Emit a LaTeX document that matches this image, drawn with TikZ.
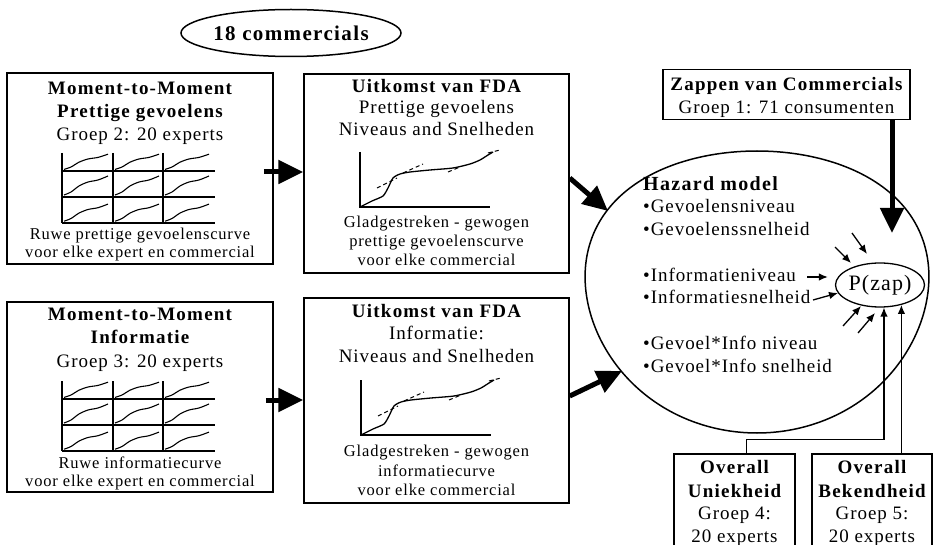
\documentclass[tikz,border=0pt]{standalone}
\usepackage{fontspec}
\setmainfont{Liberation Serif}[LetterSpace=5, BoldFeatures={LetterSpace=6.5}]
\usetikzlibrary{arrows.meta,shapes.geometric}
\begin{document}
\begin{tikzpicture}[x=1pt,y=-1pt,
  box/.style={draw, rectangle, line width=1.5pt, inner sep=0pt},
  txt/.style={anchor=base, inner sep=0pt, font=\fontsize{19pt}{23pt}\selectfont},
  bld/.style={anchor=base, inner sep=0pt, font=\fontsize{19pt}{23pt}\selectfont\bfseries},
  capt/.style={anchor=base, inner sep=0pt, font=\fontsize{16.5pt}{20pt}\selectfont},
  item/.style={anchor=base west, inner sep=0pt, font=\fontsize{19pt}{23pt}\selectfont},
  bigarrow/.style={line width=5pt, -{Triangle[length=25pt,width=23pt]}},
  thinarrow/.style={line width=1.3pt, -{Latex[length=9pt,width=7.5pt]}},
  grid/.style={line width=1.3pt},
  curve/.style={line width=1.1pt},
]
\useasboundingbox (0,0) rectangle (934,545);
\clip (0,0) rectangle (934,545);

% ---- top ellipse
\node[draw, ellipse, line width=1.5pt, minimum width=220pt, minimum height=47pt, inner sep=0pt,
      font=\fontsize{21pt}{25pt}\selectfont\bfseries] (tc) at (291,33) {18 commercials};

% ---- boxes
\node[box, minimum width=266pt, minimum height=191pt] (b1) at (140,168.5) {};
\node[box, minimum width=265pt, minimum height=199pt] (b2) at (436.5,173.5) {};
\node[box, minimum width=266pt, minimum height=190pt] (b3) at (140,397) {};
\node[box, minimum width=265pt, minimum height=205pt] (b4) at (436.5,400.5) {};
\node[box, minimum width=247pt, minimum height=50pt] (zp) at (786.5,94.5) {};
\node[box, minimum width=121pt, minimum height=110pt] (u) at (734.5,509) {};
\node[box, minimum width=120pt, minimum height=110pt] (bk) at (872,509) {};

% ---- hazard model outline (egg-shaped oval, wider at the top)
\draw[line width=1.5pt] plot[domain=0:360, samples=145, smooth]
  ({757+171*cos(\x)*(1-0.1*sin(\x)+0.05*sin(\x)*sin(\x))}, {292+141*sin(\x)}) -- cycle;
\coordinate (hzA) at (608,211);
\coordinate (hzB) at (622,371);

\node[draw, ellipse, line width=1.3pt, minimum width=74pt, minimum height=44pt, inner sep=0pt,
      font=\fontsize{22pt}{26pt}\selectfont] (pz) at (880,285) {P(zap)};

% ---- box 1 texts
\node[bld] (t1a) at (140,95) {Moment-to-Moment};
\node[bld] (t1b) at (140,118) {Prettige gevoelens};
\node[txt] (t1c) at (140,141) {Groep 2: 20 experts};
\node[capt] (t1d) at (140,240) {Ruwe prettige gevoelenscurve};
\node[capt] (t1e) at (140,258) {voor elke expert en commercial};

% ---- box 2 texts
\node[bld] (t2a) at (436.5,93) {Uitkomst van FDA};
\node[txt] (t2b) at (436.5,114) {Prettige gevoelens};
\node[txt] (t2c) at (436.5,136) {Niveaus and Snelheden};
\node[capt] (t2d) at (436.5,228) {Gladgestreken - gewogen};
\node[capt] (t2e) at (436.5,247) {prettige gevoelenscurve};
\node[capt] (t2f) at (436.5,266) {voor elke commercial};

% ---- box 3 texts
\node[bld] (t3a) at (140,320) {Moment-to-Moment};
\node[bld] (t3b) at (140,343) {Informatie};
\node[txt] (t3c) at (140,367) {Groep 3: 20 experts};
\node[capt] (t3d) at (140,468) {Ruwe informatiecurve};
\node[capt] (t3e) at (140,486) {voor elke expert en commercial};

% ---- box 4 texts
\node[bld] (t4a) at (436.5,317) {Uitkomst van FDA};
\node[txt] (t4b) at (436.5,339) {Informatie:};
\node[txt] (t4c) at (436.5,362) {Niveaus and Snelheden};
\node[capt] (t4d) at (436.5,456) {Gladgestreken - gewogen};
\node[capt] (t4e) at (436.5,476) {informatiecurve};
\node[capt] (t4f) at (436.5,495) {voor elke commercial};

% ---- zappen texts
\node[bld] (z1) at (786.5,91) {Zappen van Commercials};
\node[txt] (z2) at (786.5,114) {Groep 1: 71 consumenten};

% ---- hazard texts
\node[anchor=base west, inner sep=0pt, font=\fontsize{20pt}{24pt}\selectfont\bfseries\addfontfeatures{LetterSpace=17}] (hm) at (643,191) {Hazard model};
\node[item] (l1) at (643,213) {•Gevoelensniveau};
\node[item] (l2) at (643,236) {•Gevoelenssnelheid};
\node[item] (l3) at (643,282) {•Informatieniveau};
\node[item] (l4) at (643,303) {•Informatiesnelheid};
\node[item] (l5) at (643,349) {•Gevoel*Info niveau};
\node[item] (l6) at (643,372) {•Gevoel*Info snelheid};

% ---- overall texts
\node[bld] (u1) at (734.5,473) {Overall};
\node[bld] (u2) at (734.5,497) {Uniekheid};
\node[txt] (u3) at (734.5,519) {Groep 4:};
\node[txt] (u4) at (734.5,542) {20 experts};
\node[bld] (k1) at (872,473) {Overall};
\node[bld] (k2) at (872,497) {Bekendheid};
\node[txt] (k3) at (872,519) {Groep 5:};
\node[txt] (k4) at (872,542) {20 experts};

% ---- mini grids
\foreach \dy in {0,228} {
  \begin{scope}[shift={(0,\dy)}]
    \foreach \x in {62,113,163} \draw[grid] (\x,153) -- (\x,223);
    \foreach \y in {171,197,223} \draw[grid] (62,\y) -- (215,\y);
    \foreach \x in {62,113,163} {
      \foreach \y/\s in {171/0.8,197/1,223/0.9} {
        \draw[curve] plot[smooth] coordinates {({\x+2},{\y-2*\s}) ({\x+9},{\y-5*\s}) ({\x+17},{\y-11*\s}) ({\x+26},{\y-15*\s}) ({\x+36},{\y-17*\s}) ({\x+46},{\y-21*\s})};
      }
    }
  \end{scope}
}

% ---- FDA charts
\foreach \dx/\dy in {0/0,1/228} {
  \begin{scope}[shift={(\dx,\dy)}]
    \draw[grid] (360,152) -- (360,207) -- (490,207);
    \draw[line width=1.3pt] plot[smooth, tension=0.4] coordinates {(360,207) (372,201) (383,196) (388,188) (393,178) (400,174) (410,172) (430,170) (453,168) (470,164) (480,160) (488,155) (493,152)};
    \draw[line width=1pt, dash pattern=on 4pt off 3pt] (377,188) -- (397,178);
    \draw[line width=1pt, dash pattern=on 4pt off 3pt] (403,173) -- (423,164);
    \draw[line width=1pt, dash pattern=on 4pt off 3pt] (448,172) -- (460,167);
    \draw[line width=1pt, dash pattern=on 4pt off 3pt] (488,153) -- (500,150);
  \end{scope}
}

% ---- big arrows
\draw[bigarrow] ([xshift=-10pt,yshift=-3.5pt]b1.east) coordinate (s1) -- (s1 -| b2.west);
\draw[bigarrow] ([xshift=-8pt,yshift=-3pt]b3.east) coordinate (s3) -- (s3 -| b4.west);
\draw[bigarrow] ([yshift=-4.5pt]b2.east) -- (hzA);
\draw[bigarrow] ([yshift=4.5pt]b4.east) -- (hzB);
\coordinate (zt) at (892,233);
\draw[bigarrow] (zt |- zp.south) -- (zt);

% ---- small arrows into P(zap)
\draw[thinarrow, shorten >=7pt] (807,277) coordinate (i1) -- (i1 -| pz.west);
\coordinate (i2s) at (813,300); \coordinate (i2e) at (838,293);
\draw[thinarrow] (i2s) -- (i2e);
\coordinate (a1s) at (835,247); \coordinate (a1e) at (851,263);
\coordinate (a2s) at (852,233); \coordinate (a2e) at (867,254);
\coordinate (a3s) at (843,326); \coordinate (a3e) at (861,306);
\coordinate (a4s) at (858,333); \coordinate (a4e) at (875,313);
\draw[thinarrow] (a1s) -- (a1e);
\draw[thinarrow] (a2s) -- (a2e);
\draw[thinarrow] (a3s) -- (a3e);
\draw[thinarrow] (a4s) -- (a4e);

% ---- overall connectors
\draw[thinarrow] ([xshift=12pt]u.north) -- ++(0,-14) -| (pz.280);
\draw[thinarrow] (pz.317 |- bk.north) -- (pz.317);
\end{tikzpicture}
\end{document}
